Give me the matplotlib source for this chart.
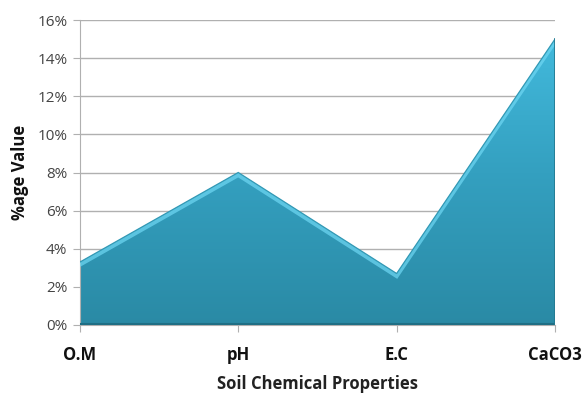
import matplotlib
matplotlib.use("Agg")
import matplotlib.pyplot as plt
import matplotlib.transforms as mtransforms
from matplotlib.patches import Polygon
from matplotlib.ticker import PercentFormatter
import numpy as np

# Soil chemical properties (% values)
categories = ["O.M", "pH", "E.C", "CaCO3"]
values = [3.3, 8.0, 2.7, 15.0]
y_ticks = [0, 2, 4, 6, 8, 10, 12, 14, 16]

plt.rcParams['font.family'] = ['Open Sans', 'DejaVu Sans']

fig = plt.figure(figsize=(5.83, 4.0), dpi=100)
ax = fig.add_axes([0.137, 0.1875, 0.815, 0.7625])

x = np.arange(len(categories))
ax.set_xlim(0, len(categories) - 1)
ax.set_ylim(0, 16)

# gridlines
ax.set_yticks(y_ticks)
ax.yaxis.set_major_formatter(PercentFormatter(decimals=0))
ax.grid(axis='y', color='#b0b0b0', linewidth=1.0, zorder=0)
ax.set_axisbelow(True)

# area polygon with vertical gradient
verts = [(x[0], 0)] + list(zip(x, values)) + [(x[-1], 0)]
poly = Polygon(verts, closed=True, facecolor='none', edgecolor='none')
ax.add_patch(poly)
grad = np.linspace(0, 1, 256).reshape(-1, 1)
cmap = matplotlib.colors.LinearSegmentedColormap.from_list(
    'area', ['#2a8aa5', '#34a0c0', '#44bde0'])
im = ax.imshow(grad, extent=[0, 3, 0, 16], origin='lower', aspect='auto',
               cmap=cmap, zorder=2, vmin=0, vmax=1)
im.set_clip_path(poly)

# soft light band just inside the top edge, then a thin darker outline
shift = mtransforms.offset_copy(ax.transData, fig=fig, y=-1.8, units='points')
band, = ax.plot(x, values, color='#6fd8f4', linewidth=3.0, zorder=3,
                transform=shift, solid_joinstyle='miter', alpha=0.7)
band.set_clip_path(poly)
ax.plot(x, values, color='#3399b5', linewidth=0.9, zorder=4,
        solid_joinstyle='miter')
ax.plot([x[0], x[-1]], [0.05, 0.05], color='#1f6f85', linewidth=1.5, zorder=4)
ax.plot([x[-1], x[-1]], [0, values[-1]], color='#23788f', linewidth=1.2, zorder=4)

ax.set_xticks(x)
ax.set_xticklabels(categories, fontsize=12, fontweight='bold')
ax.tick_params(axis='x', length=5, color='#b0b0b0', pad=10, labelcolor='#111111')
ax.tick_params(axis='y', length=5, color='#b0b0b0', labelsize=11,
               labelcolor='#444444', pad=4)

for side in ['top', 'right']:
    ax.spines[side].set_visible(False)
for side in ['left', 'bottom']:
    ax.spines[side].set_color('#b0b0b0')

ax.set_xlabel('Soil Chemical Properties', fontsize=12, fontweight='bold',
              color='#222222', labelpad=8)
ax.set_ylabel('%age Value', fontsize=12, fontweight='bold', color='#111111',
              labelpad=6)

fig.savefig('out.png', dpi=100)
